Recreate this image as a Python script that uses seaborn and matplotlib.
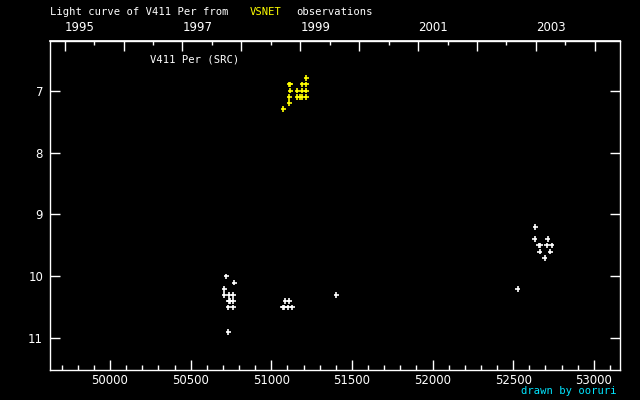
import matplotlib
matplotlib.use("Agg")
import matplotlib.pyplot as plt
import numpy as np
import pandas as pd
import seaborn as sns
from matplotlib.ticker import FixedLocator, FuncFormatter, MultipleLocator

# VSNET observations (yellow)
vsnet_jd = [51218, 51112, 51118, 51193, 51218, 51118, 51162, 51193, 51218,
            51112, 51162, 51176, 51193, 51218, 51112, 51075]
vsnet_mag = [6.8, 6.9, 6.9, 6.9, 6.9, 7.0, 7.0, 7.0, 7.0,
             7.1, 7.1, 7.1, 7.1, 7.1, 7.2, 7.3]

# other observations (white)
other_jd = [50721, 50771, 50709, 50709, 50740, 50765, 50737, 50743, 50765,
            50734, 50765, 50734, 51087, 51112, 51074, 51080, 51106, 51131,
            51404, 52638, 52632, 52713, 52657, 52669, 52707, 52738, 52663,
            52731, 52694, 52527]
other_mag = [10.0, 10.1, 10.2, 10.3, 10.3, 10.3, 10.4, 10.4, 10.4,
             10.5, 10.5, 10.9, 10.4, 10.4, 10.5, 10.5, 10.5, 10.5,
             10.3, 9.2, 9.4, 9.4, 9.5, 9.5, 9.5, 9.5, 9.6,
             9.6, 9.7, 10.2]

year_ticks = [1995, 1996, 1997, 1998, 1999, 2000, 2001, 2002, 2003, 2004]

df = pd.DataFrame({
    "jd": vsnet_jd + other_jd,
    "mag": vsnet_mag + other_mag,
    "source": ["VSNET"] * len(vsnet_jd) + ["other"] * len(other_jd),
})

sns.set_theme(style="ticks")
plt.rcParams.update({
    "font.family": ["DejaVu Sans"],
    "figure.facecolor": "black",
    "axes.facecolor": "black",
    "axes.edgecolor": "white",
    "text.color": "white",
    "xtick.color": "white",
    "ytick.color": "white",
})
MONO = ["DejaVu Sans Mono"]

fig = plt.figure(figsize=(6.4, 4.0), dpi=100)
ax = fig.add_axes([50 / 640, 30 / 400, 570 / 640, 329 / 400])

sns.scatterplot(df, x="jd", y="mag", hue="source",
                palette={"VSNET": "#ffff00", "other": "white"},
                marker="+", s=16, linewidth=1.2, legend=False, ax=ax)

ax.set_xlim(49628, 53162)
ax.set_ylim(11.51, 6.2)  # magnitudes: bright at top
ax.set(xlabel="", ylabel="")
for sp in ax.spines.values():
    sp.set_color("white")
    sp.set_linewidth(1.0)

ax.xaxis.set_major_locator(MultipleLocator(500))
ax.xaxis.set_minor_locator(MultipleLocator(100))
ax.yaxis.set_major_locator(MultipleLocator(1))
ax.tick_params(axis="x", which="major", direction="in", length=7, width=1,
               labelsize=8.5, pad=3, colors="white", top=False)
ax.tick_params(axis="x", which="minor", direction="in", length=3.5, width=1,
               top=False)
ax.tick_params(axis="y", which="major", direction="in", length=7, width=1,
               labelsize=8.5, pad=5, right=True, colors="white")


# top axis in calendar years
def jd2yr(x):
    return 1995 + (np.asarray(x) - 49718.5) / 365.25


def yr2jd(y):
    return 49718.5 + (np.asarray(y) - 1995) * 365.25


top = ax.secondary_xaxis("top", functions=(jd2yr, yr2jd))
top.xaxis.set_major_locator(FixedLocator(year_ticks))
top.xaxis.set_minor_locator(MultipleLocator(0.5))
top.xaxis.set_major_formatter(
    FuncFormatter(lambda v, p: f"{int(round(v))}" if int(round(v)) % 2 else ""))
top.tick_params(which="major", direction="in", length=7, width=1,
                labelsize=8.5, pad=5, colors="white")
top.tick_params(which="minor", direction="in", length=3, width=1, colors="white")
top.spines["top"].set_color("white")
for lbl in top.get_xticklabels():
    lbl.set_horizontalalignment("left")  # year labels start at the tick

fig.text(50 / 640, 1 - 12 / 400, "Light curve of V411 Per from", fontsize=7.6,
         family=MONO, color="white", va="center", ha="left")
fig.text(250 / 640, 1 - 12 / 400, "VSNET", fontsize=7.6, family=MONO,
         color="#ffff00", va="center", ha="left")
fig.text(296 / 640, 1 - 12 / 400, "observations", fontsize=7.6, family=MONO,
         color="white", va="center", ha="left")
fig.text(150 / 640, 1 - 60 / 400, "V411 Per (SRC)", fontsize=7.6, family=MONO,
         color="white", va="center", ha="left")
fig.text(617 / 640, 1 - 391 / 400, "drawn by ooruri", fontsize=7.6,
         family=MONO, color="#00e5ff", va="center", ha="right")

fig.savefig("out.png", dpi=100, facecolor="black")
